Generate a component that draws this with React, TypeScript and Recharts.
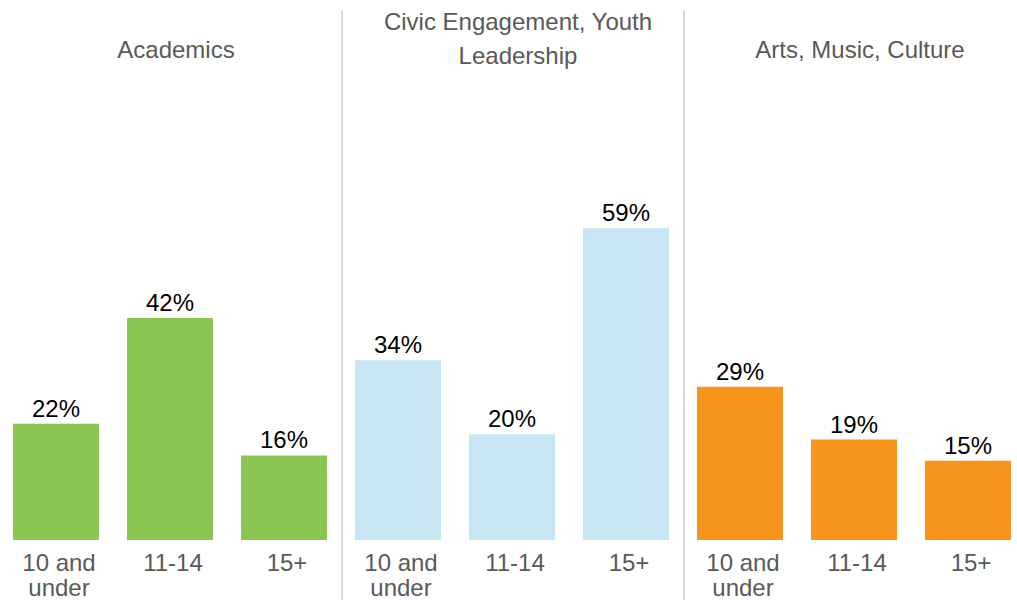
import React from "react";
import { BarChart, Bar, XAxis, YAxis, LabelList } from "recharts";

const ageGroups = ["10 and under", "11-14", "15+"];

const academics = [22, 42, 16];
const civic = [34, 20, 59];
const arts = [29, 19, 15];

const panelTitles = [
  ["Academics"],
  ["Civic Engagement, Youth", "Leadership"],
  ["Arts, Music, Culture"],
];
const panelColors = ["#8CC652", "#C7E5F2", "#F7941E"];
const panelValues = [academics, civic, arts];

const FONT = "'Liberation Sans', Arial, sans-serif";

function AgeTick({ x, y, payload }: any) {
  const words = String(payload.value);
  const lines = words === "10 and under" ? ["10 and", "under"] : [words];
  return (
    <text
      x={x + 3}
      y={y}
      textAnchor="middle"
      fill="#595959"
      fontSize={24}
      fontFamily={FONT}
    >
      {lines.map((l, i) => (
        <tspan key={i} x={x + 3} dy={i === 0 ? 31 : 25}>
          {l}
        </tspan>
      ))}
    </text>
  );
}

function Panel({ index }: { index: number }) {
  const values = panelValues[index];
  const data = ageGroups.map((g, i) => ({ age: g, value: values[i] }));
  const title = panelTitles[index];
  const single = title.length === 1;
  return (
    <div style={{ position: "relative", width: 342, height: 600 }}>
      {index > 0 && (
        <div
          style={{
            position: "absolute",
            left: 0,
            top: 10,
            width: 1.5,
            height: 590,
            background: "#D9D9D9",
          }}
        />
      )}
      <div
        style={{
          position: "absolute",
          left: 6,
          top: single ? 33 : 5,
          width: 342,
          textAlign: "center",
          fontFamily: FONT,
          fontSize: 24,
          lineHeight: "34px",
          color: "#595959",
        }}
      >
        {title.map((t, i) => (
          <div key={i}>{t}</div>
        ))}
      </div>
      <div style={{ position: "absolute", left: 0, top: 0 }}>
        <BarChart
          width={342}
          height={600}
          data={data}
          margin={{ top: 170, right: 0, bottom: 0, left: 0 }}
          barCategoryGap={14}
        >
          <XAxis
            dataKey="age"
            height={60}
            axisLine={false}
            tickLine={false}
            tickSize={0}
            tickMargin={0}
            interval={0}
            tick={<AgeTick />}
          />
          <YAxis hide domain={[0, 70]} />
          <Bar dataKey="value" fill={panelColors[index]} isAnimationActive={false}>
            <LabelList
              dataKey="value"
              position="top"
              offset={7}
              formatter={(v: any) => `${v}%`}
              fill="#000000"
              fontSize={24}
              fontFamily={FONT}
            />
          </Bar>
        </BarChart>
      </div>
    </div>
  );
}

export default function App() {
  return (
    <div
      style={{
        position: "absolute",
        left: 0,
        top: 0,
        width: 1017,
        height: 600,
        overflow: "hidden",
        background: "#ffffff",
      }}
    >
      <div style={{ position: "absolute", left: -1, top: 0, display: "flex" }}>
        <Panel index={0} />
        <Panel index={1} />
        <Panel index={2} />
      </div>
    </div>
  );
}
